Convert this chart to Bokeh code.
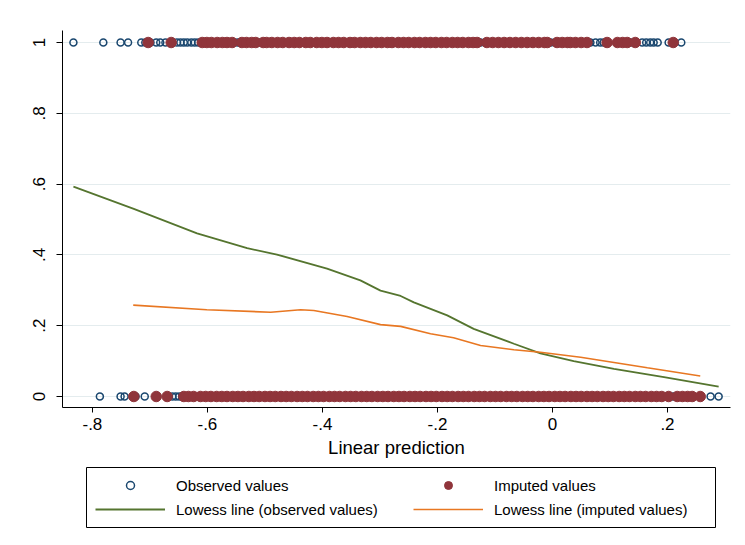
from bokeh.plotting import figure
from bokeh.models import Range1d, FixedTicker, Legend, LegendItem, BoxAnnotation
from bokeh.layouts import column
from bokeh.embed import file_html
from bokeh.resources import INLINE

# ---- data ----
obs_top_x = [-0.833, -0.781, -0.751, -0.738, -0.715, -0.708, -0.699, -0.689, -0.682, -0.673,
             -0.661, -0.653, -0.647, -0.641, -0.635, -0.628, -0.622, -0.616, -0.610, -0.555,
             -0.548, -0.543, -0.53, -0.51, -0.49, -0.47, -0.45, -0.43, -0.41, -0.39, -0.37,
             -0.35, -0.33, -0.31, -0.29, -0.27, -0.25, -0.23, -0.21, -0.19, -0.17, -0.15,
             -0.13, -0.125, -0.117, -0.10, -0.08, -0.06, -0.04, -0.02, -0.003, 0.005, 0.02,
             0.045, 0.066, 0.075, 0.083, 0.089, 0.130, 0.136, 0.156, 0.163, 0.170, 0.176,
             0.183, 0.202, 0.224]
imp_top_x = [-0.703, -0.663, -0.609, -0.601, -0.593, -0.583, -0.574, -0.566, -0.557, -0.540,
             -0.532, -0.523, -0.516, -0.503, -0.497, -0.488, -0.478, -0.469, -0.458, -0.449,
             -0.440, -0.429, -0.421, -0.410, -0.401, -0.392, -0.381, -0.372, -0.363, -0.352,
             -0.344, -0.334, -0.325, -0.316, -0.306, -0.297, -0.287, -0.279, -0.268, -0.259,
             -0.250, -0.240, -0.231, -0.221, -0.212, -0.203, -0.193, -0.184, -0.174, -0.165,
             -0.156, -0.146, -0.138, -0.131, -0.114, -0.104, -0.094, -0.084, -0.074, -0.064,
             -0.054, -0.044, -0.034, -0.024, -0.014, -0.009, 0.008, 0.017, 0.026, 0.031,
             0.040, 0.050, 0.060, 0.095, 0.113, 0.122, 0.130, 0.144, 0.210]
obs_bot_x = [-0.787, -0.751, -0.744, -0.725, -0.709, -0.661, -0.655, -0.649, -0.644, -0.63,
             -0.61, -0.59, -0.57, -0.55, -0.53, -0.51, -0.49, -0.47, -0.45, -0.43, -0.41,
             -0.39, -0.37, -0.35, -0.33, -0.31, -0.29, -0.27, -0.25, -0.23, -0.21, -0.19,
             -0.17, -0.15, -0.13, -0.11, -0.09, -0.07, -0.05, -0.03, -0.01, 0.01, 0.03, 0.05,
             0.07, 0.09, 0.11, 0.13, 0.15, 0.17, 0.19, 0.210, 0.275, 0.289]
imp_bot_x = [-0.728, -0.689, -0.670, -0.641, -0.633, -0.624, -0.612, -0.603, -0.594, -0.584,
             -0.575, -0.566, -0.556, -0.547, -0.538, -0.528, -0.519, -0.510, -0.500, -0.491,
             -0.482, -0.472, -0.463, -0.454, -0.444, -0.435, -0.426, -0.416, -0.407, -0.398,
             -0.388, -0.379, -0.370, -0.360, -0.351, -0.342, -0.332, -0.323, -0.314, -0.304,
             -0.295, -0.286, -0.276, -0.267, -0.258, -0.248, -0.239, -0.230, -0.220, -0.211,
             -0.202, -0.192, -0.183, -0.174, -0.164, -0.155, -0.146, -0.136, -0.127, -0.118,
             -0.108, -0.099, -0.090, -0.080, -0.071, -0.062, -0.052, -0.043, -0.034, -0.024,
             -0.015, -0.006, 0.004, 0.013, 0.022, 0.032, 0.041, 0.050, 0.060, 0.069, 0.078,
             0.088, 0.097, 0.106, 0.116, 0.125, 0.134, 0.144, 0.153, 0.162, 0.172, 0.181,
             0.190, 0.202, 0.217, 0.226, 0.235, 0.243, 0.257]

low_obs_x = [-0.833, -0.728, -0.618, -0.531, -0.479, -0.392, -0.334, -0.299, -0.264, -0.241,
             -0.183, -0.137, -0.067, -0.021, 0.037, 0.107, 0.194, 0.289]
low_obs_y = [0.593, 0.530, 0.461, 0.419, 0.401, 0.361, 0.328, 0.299, 0.284, 0.266,
             0.229, 0.191, 0.149, 0.122, 0.100, 0.078, 0.055, 0.028]
low_imp_x = [-0.729, -0.601, -0.490, -0.438, -0.415, -0.357, -0.299, -0.264, -0.212, -0.172,
             -0.125, -0.067, -0.021, 0.049, 0.165, 0.257]
low_imp_y = [0.258, 0.245, 0.238, 0.245, 0.243, 0.226, 0.203, 0.198, 0.177, 0.166,
             0.144, 0.132, 0.125, 0.111, 0.081, 0.058]

x_ticks = [-0.8, -0.6, -0.4, -0.2, 0, 0.2]
x_labels = ["-.8", "-.6", "-.4", "-.2", "0", ".2"]
y_ticks = [0, 0.2, 0.4, 0.6, 0.8, 1]
y_labels = ["0", ".2", ".4", ".6", ".8", "1"]
legend_labels = ["Observed values", "Imputed values",
                 "Lowess line (observed values)", "Lowess line (imputed values)"]

NAVY = "#1a476f"
MAROON = "#90353b"
GREEN = "#55752f"
ORANGE = "#e87722"
FONT = "Liberation Sans"

OBS_STYLE = dict(marker="circle", size=7, fill_color=None, line_color=NAVY, line_width=1.5)
IMP_STYLE = dict(marker="circle", size=10.5, fill_color=MAROON, line_color=MAROON, line_width=1)
LO_STYLE = dict(line_color=GREEN, line_width=1.8)
LI_STYLE = dict(line_color=ORANGE, line_width=1.6)

p = figure(width=745, height=465, output_backend="svg", toolbar_location=None,
           x_range=Range1d(-0.852, 0.3096), y_range=Range1d(-0.0311, 1.0339),
           min_border_left=62, min_border_right=15, min_border_top=30, min_border_bottom=58)
p.outline_line_color = None
p.background_fill_color = "white"
p.border_fill_color = "white"

p.scatter(obs_top_x, [1] * len(obs_top_x), **OBS_STYLE)
p.scatter(obs_bot_x, [0] * len(obs_bot_x), **OBS_STYLE)
p.scatter(imp_top_x, [1] * len(imp_top_x), **IMP_STYLE)
p.scatter(imp_bot_x, [0] * len(imp_bot_x), **IMP_STYLE)
p.line(low_obs_x, low_obs_y, **LO_STYLE)
p.line(low_imp_x, low_imp_y, **LI_STYLE)

xa = p.xaxis[0]
xa.ticker = FixedTicker(ticks=x_ticks)
xa.major_label_overrides = {t: l for t, l in zip(x_ticks, x_labels)}
xa.axis_label = "Linear prediction"
xa.axis_label_text_font = FONT
xa.axis_label_text_font_style = "normal"
xa.axis_label_text_font_size = "18.5px"
xa.axis_label_text_color = "black"
xa.axis_label_standoff = 4
xa.major_label_text_font = FONT
xa.major_label_text_font_size = "17px"
xa.major_label_text_color = "black"
xa.major_label_standoff = 5
xa.major_tick_out = 5
xa.major_tick_in = 0
xa.minor_tick_out = 0
xa.minor_tick_in = 0
xa.axis_line_color = "black"
xa.major_tick_line_color = "black"

ya = p.yaxis[0]
ya.ticker = FixedTicker(ticks=y_ticks)
ya.major_label_overrides = {t: l for t, l in zip(y_ticks, y_labels)}
ya.major_label_orientation = "vertical"
ya.major_label_text_font = FONT
ya.major_label_text_font_size = "17px"
ya.major_label_text_color = "black"
ya.major_label_standoff = 11
ya.major_tick_out = 6
ya.major_tick_in = 0
ya.minor_tick_out = 0
ya.minor_tick_in = 0
ya.axis_line_color = "black"
ya.major_tick_line_color = "black"

p.xgrid.visible = False
p.ygrid[0].ticker = FixedTicker(ticks=y_ticks)
p.ygrid.grid_line_color = "#e4ecee"
p.ygrid.grid_line_width = 1

# ---- legend strip below the plot (same frame width so the column stays aligned) ----
lg = figure(width=745, height=80, output_backend="svg", toolbar_location=None,
            x_range=Range1d(0, 668), y_range=Range1d(0, 80),
            x_axis_location=None, y_axis_location=None,
            min_border_left=62, min_border_right=15, min_border_top=0, min_border_bottom=0)
lg.xgrid.visible = False
lg.ygrid.visible = False
lg.outline_line_color = None
lg.background_fill_color = "white"
lg.border_fill_color = "white"

lg.add_layout(BoxAnnotation(left=24, right=653, bottom=18, top=78,
                            fill_alpha=0, line_color="black", line_width=1, line_alpha=1))

# legend-key renderers kept outside the visible range of the strip
r_obs = lg.scatter([-500], [-500], **OBS_STYLE)
r_imp = lg.scatter([-500], [-500], **IMP_STYLE)
r_lo = lg.line([-500, -499], [-500, -500], **LO_STYLE)
r_li = lg.line([-500, -499], [-500, -500], **LI_STYLE)


def make_legend(items, loc):
    leg = Legend(items=items, location=loc, orientation="vertical")
    leg.label_text_font = FONT
    leg.label_text_font_size = "15px"
    leg.label_text_color = "black"
    leg.glyph_width = 70
    leg.glyph_height = 20
    leg.label_height = 20
    leg.label_standoff = 11
    leg.spacing = 4
    leg.padding = 8
    leg.margin = 0
    leg.border_line_color = None
    leg.background_fill_alpha = 0
    return leg


lg.add_layout(make_legend([LegendItem(label=legend_labels[0], renderers=[r_obs]),
                           LegendItem(label=legend_labels[2], renderers=[r_lo])], (33, 26)), "center")
lg.add_layout(make_legend([LegendItem(label=legend_labels[1], renderers=[r_imp]),
                           LegendItem(label=legend_labels[3], renderers=[r_li])], (351, 26)), "center")

layout = column(p, lg, spacing=0)
open("out.html", "w").write(file_html(layout, INLINE))
